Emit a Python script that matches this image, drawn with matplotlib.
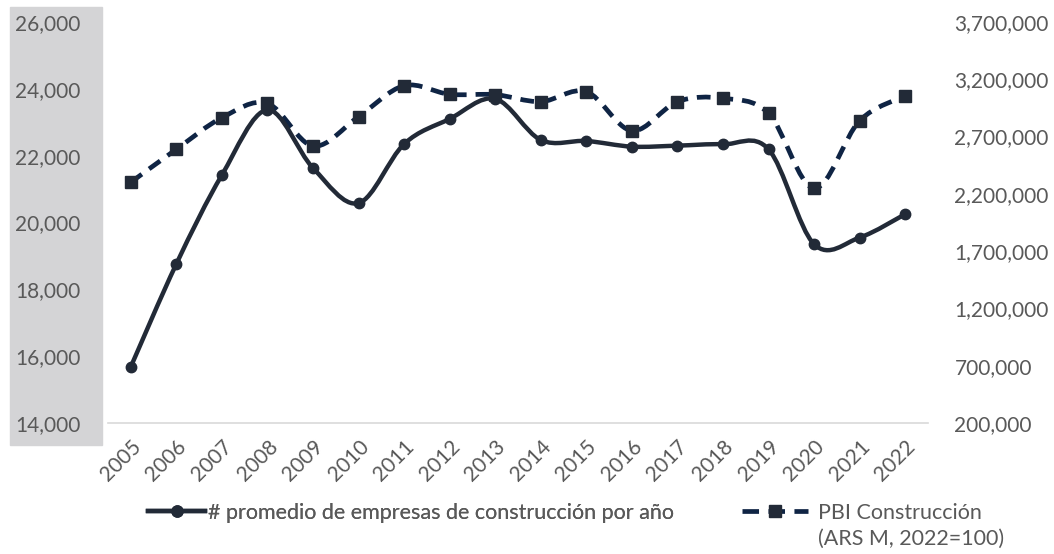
"""
Empresas de construcción vs. PBI construcción, 2005-2022 (smoothed lines, two y axes).
"""

import numpy as np
import matplotlib.pyplot as plt
from matplotlib.path import Path
from matplotlib.patches import PathPatch, Rectangle
from matplotlib.lines import Line2D
from matplotlib.ticker import FuncFormatter

plt.rcParams["font.family"] = ["Lato", "DejaVu Sans"]

years = list(range(2005, 2023))
empresas = [15680, 18760, 21420, 23370, 21630, 20580, 22350, 23100, 23700,
            22470, 22440, 22270, 22300, 22340, 22190, 19350, 19550, 20250]
pbi = [2301000, 2589000, 2865000, 2990000, 2618000, 2874000, 3144000, 3069000,
       3066000, 3005000, 3092000, 2751000, 3005000, 3034000, 2903000, 2248000,
       2839000, 3054000]

label_emp = "# promedio de empresas de construcción por año"
label_pbi = "PBI Construcción"
label_pbi2 = "(ARS M, 2022=100)"

DARK = "#222a37"
NAVY = "#0f2444"
GREY_TXT = "#595959"
FS = 15      # tick labels
FS_LEG = 15.5


def smooth_path(x, y):
    # Excel-like smoothing: cubic Bezier with Catmull-Rom control points
    x = np.asarray(x, float)
    y = np.asarray(y, float)
    pts = np.column_stack([x, y])
    ext = np.vstack([pts[0], pts, pts[-1]])
    verts = [pts[0]]
    codes = [Path.MOVETO]
    for i in range(len(pts) - 1):
        p0, p1, p2, p3 = ext[i], ext[i + 1], ext[i + 2], ext[i + 3]
        c1 = p1 + (p2 - p0) / 6
        c2 = p2 - (p3 - p1) / 6
        verts += [c1, c2, p2]
        codes += [Path.CURVE4] * 3
    return Path(verts, codes)


fig = plt.figure(figsize=(10.54, 5.54), dpi=100)
# grey band behind the left axis labels
fig.patches.append(Rectangle((10 / 1054, 1 - 445 / 554), 92 / 1054, 438 / 554,
                             transform=fig.transFigure, color="#d4d4d6", zorder=0))

ax = fig.add_axes([108 / 1054, 1 - 423 / 554, 820 / 1054, 401 / 554])
ax.patch.set_alpha(0)
ax2 = ax.twinx()

xs = np.arange(len(years))

ax2.add_patch(PathPatch(smooth_path(xs, pbi), fill=False, edgecolor=NAVY, lw=3.4,
                        linestyle=(0, (2.9, 1.9)), capstyle="butt"))
ax2.plot(xs, pbi, ls="none", marker="s", ms=8.5, color=DARK)

ax.add_patch(PathPatch(smooth_path(xs, empresas), fill=False, edgecolor=DARK, lw=3.2,
                       zorder=3))
ax.plot(xs, empresas, ls="none", marker="o", ms=7.5, color=DARK, zorder=4)
ax.set_zorder(ax2.get_zorder() + 1)

ax.set_xlim(-0.5, len(years) - 0.5)
ax.set_ylim(14000, 26000)
ax2.set_ylim(200000, 3700000)
ax.set_yticks(np.arange(14000, 26001, 2000))
ax2.set_yticks(np.arange(200000, 3700001, 500000))
fmt = FuncFormatter(lambda v, p: f"{v:,.0f}")
ax.yaxis.set_major_formatter(fmt)
ax2.yaxis.set_major_formatter(fmt)

ax.set_xticks(xs)
ax.set_xticklabels(years, rotation=45, ha="right", rotation_mode="anchor")

for a in (ax, ax2):
    for s in a.spines.values():
        s.set_visible(False)
    a.tick_params(length=0, colors=GREY_TXT, labelsize=FS)
ax.spines["bottom"].set_visible(True)
ax.spines["bottom"].set_color("#d9d9d9")
ax.spines["bottom"].set_linewidth(1.2)
ax.tick_params(axis="y", pad=20)
ax2.tick_params(axis="y", pad=19)
ax.tick_params(axis="x", pad=10)

# legend
h1 = Line2D([], [], color=DARK, lw=3.2, marker="o", ms=8)
h2 = Line2D([], [], color=NAVY, lw=3.4, ls=(0, (3.5, 2.0)), marker="s", ms=9,
            markerfacecolor=DARK, markeredgecolor=DARK)
leg1 = fig.legend([h1], [label_emp], loc="center left", bbox_to_anchor=(148 / 1054, 1 - 513 / 554),
                  frameon=False, fontsize=FS_LEG, labelcolor=GREY_TXT, handlelength=2.65,
                  handletextpad=0.14, borderpad=0, borderaxespad=0)
fig.legend([h2], [label_pbi], loc="center left", bbox_to_anchor=(742 / 1054, 1 - 513 / 554),
           frameon=False, fontsize=FS_LEG, labelcolor=GREY_TXT, handlelength=3.07,
           handletextpad=0.46, borderpad=0, borderaxespad=0)
fig.add_artist(leg1)
fig.text(818 / 1054, 1 - 539 / 554, label_pbi2, fontsize=FS_LEG, color=GREY_TXT,
         ha="left", va="center")

fig.savefig("out.png", dpi=100)
print("saved out.png")
